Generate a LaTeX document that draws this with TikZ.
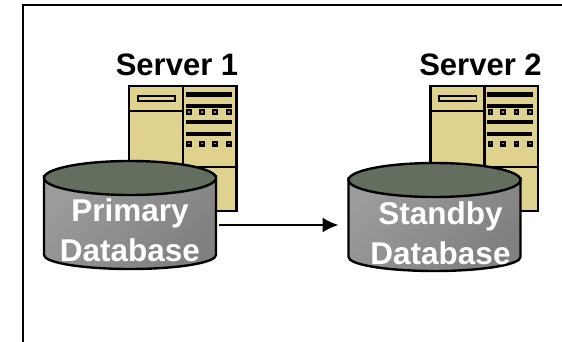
\documentclass[tikz,border=0pt]{standalone}
\usepackage{fontspec}
\setmainfont{Liberation Sans}
\usetikzlibrary{arrows.meta,calc}
\definecolor{tan}{HTML}{DFD18E}
\definecolor{dbtop}{HTML}{646E5E}
\tikzset{
  x=1pt,y=-1pt,
  frame/.style={draw=black,line width=2.7pt},
  heavy/.style={draw=black,line width=2.4pt},
  bar/.style={draw=none,fill=black},
  title/.style={font=\bfseries\fontsize{31}{32}\selectfont,text=black,inner sep=0pt},
  dbtext/.style={font=\bfseries\fontsize{31.5}{39.5}\selectfont,text=white,align=center,inner sep=0pt},
  dbbox/.style={draw=none,fill=none,inner sep=0pt,outer sep=2.5pt,minimum width=173pt,minimum height=109pt},
  link/.style={draw=black,line width=2pt,shorten >=7pt,-{Latex[length=16pt,width=15pt]}},
}
\newcommand{\serverunit}[2]{%
  \begin{scope}[shift={(#1,#2)}]
    \fill[tan] (0,0) rectangle (107.5,125);
    \draw[heavy] (0,0) rectangle (107.5,125);
    \draw[heavy] (54,0) -- (54,125);
    \draw[heavy] (0,25) -- (54,25);
    \draw[heavy,line width=1.6pt] (54,81) -- (107.5,81);
    \draw[draw=black,line width=1.9pt] (8.6,10) rectangle (46,14.8);
    \fill[bar] (56.7,6.3) rectangle (102.7,10.7);
    \fill[bar] (56.7,18) rectangle (102.7,22.3);
    \fill[bar] (56.7,34) rectangle (102.7,38.3);
    \fill[bar] (56.7,45.7) rectangle (101.7,50);
    \foreach \sx in {59.9,72.7,86,99.7}{
      \fill[bar] (\sx-2.9,23.3) rectangle (\sx+2.9,29);
      \fill[bar] (\sx-2.9,54.7) rectangle (\sx+2.9,60.7);
      \fill[tan!70!black] (\sx-.8,25.4) rectangle (\sx+.8,27);
      \fill[tan!70!black] (\sx-.8,56.9) rectangle (\sx+.8,58.5);
    }
  \end{scope}}
\newcommand{\dbunit}[2]{%
  \begin{scope}[shift={(#1,#2)}]
    \path[top color=black!39,bottom color=black!50,shading angle=45]
      (0,14) -- (0,94) arc[start angle=180,end angle=360,x radius=86,y radius=-14] -- (172,14) -- cycle;
    \draw[heavy] (0,14) -- (0,94) arc[start angle=180,end angle=360,x radius=86,y radius=-14] -- (172,14);
    \filldraw[heavy,fill=dbtop] (86,17) ellipse[x radius=86,y radius=17];
  \end{scope}}
\begin{document}
\begin{tikzpicture}
  \useasboundingbox (0,0) rectangle (562,342);
  \fill[white] (0,0) rectangle (562,342);
  \draw[frame] (23,342) -- (23,5) -- (562,5);

  \serverunit{129}{86}
  \serverunit{430.5}{86}
  \dbunit{44}{161}
  \dbunit{348.5}{163}

  \node[title] (s1) at (177,65) {Server 1};
  \node[title] (s2) at (480.5,65) {Server 2};
  \node[dbbox] (db1) at (130,215) {};
  \node[dbbox] (db2) at (434.5,217.5) {};
  \node[dbtext] (t1) at (130,230) {Primary\\Database};
  \node[dbtext] (t2) at (440.5,233) {Standby\\Database};
  \draw[link] ([yshift=-10pt]db1.east) -- ([yshift=-7.5pt]db2.west);
\end{tikzpicture}
\end{document}
